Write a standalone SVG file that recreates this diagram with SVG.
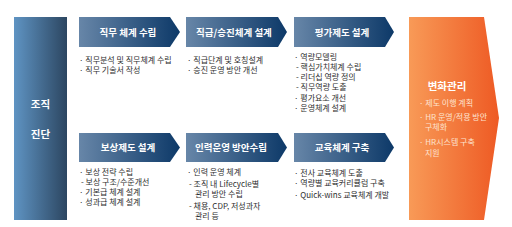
<svg xmlns="http://www.w3.org/2000/svg" width="512" height="227" viewBox="0 0 512 227">
<defs>
<linearGradient id="gBar" x1="0" y1="0" x2="1" y2="0">
<stop offset="0" stop-color="#5f94c3"/>
<stop offset="1" stop-color="#2c4661"/>
</linearGradient>
<linearGradient id="gArrow" x1="0" y1="0" x2="1" y2="0">
<stop offset="0" stop-color="#6786a8"/>
<stop offset="1" stop-color="#0d3968"/>
</linearGradient>
<linearGradient id="gOrange" x1="0" y1="0" x2="1" y2="0">
<stop offset="0" stop-color="#f89a57"/>
<stop offset="1" stop-color="#ee5a24"/>
</linearGradient>
<style>
text { font-family: "Noto Sans CJK KR", "Noto Sans", sans-serif; }
.head { fill: #ffffff; font-size: 9.5px; font-weight: bold; text-anchor: middle; }
.big { fill: #ffffff; font-size: 10.5px; font-weight: bold; text-anchor: middle; }
.item { fill: #2e2e2e; font-size: 8px; }
.oitem { fill: #fde3d0; font-size: 8px; }
</style>
</defs>
<g id="diag">
<rect x="14" y="17" width="53" height="203" fill="url(#gBar)"/>
<text class="big" x="40.5" y="108">조직</text>
<text class="big" x="40.5" y="138">진단</text>
</g>
<g id="job">
<polygon points="79,17 170,17 180,32 170,47 79,47" fill="url(#gArrow)"/>
<text class="head" x="128" y="35.5">직무 체계 수립</text>
<text class="item" x="79" y="63">· 직무분석 및 직무체계 수립</text>
<text class="item" x="79" y="73">· 직무 기술서 작성</text>
</g>
<g id="grade">
<polygon points="186,17 278,17 287,32 278,47 186,47" fill="url(#gArrow)"/>
<text class="head" x="234" y="35.5">직급/승진체계 설계</text>
<text class="item" x="187" y="63">· 직급단계 및 호칭설계</text>
<text class="item" x="187" y="73">· 승진 운영 방안 개선</text>
</g>
<g id="eval">
<polygon points="294,17 385,17 394,32 385,47 294,47" fill="url(#gArrow)"/>
<text class="head" x="342" y="35.5">평가제도 설계</text>
<text class="item" x="294" y="60">· 역량모델링</text>
<text class="item" x="296" y="70">- 핵심가치체계 수립</text>
<text class="item" x="296" y="80">- 리더십 역량 정의</text>
<text class="item" x="296" y="90">- 직무역량 도출</text>
<text class="item" x="294" y="101">· 평가요소 개선</text>
<text class="item" x="294" y="111">· 운영체계 설계</text>
</g>
<g id="comp">
<polygon points="79,133 170,133 180,147.5 170,162 79,162" fill="url(#gArrow)"/>
<text class="head" x="128" y="151">보상제도 설계</text>
<text class="item" x="79" y="175">· 보상 전략 수립</text>
<text class="item" x="81" y="185">- 보상 구조/수준개선</text>
<text class="item" x="79" y="195">· 기본급 체계 설계</text>
<text class="item" x="79" y="205">· 성과급 체계 설계</text>
</g>
<g id="staff">
<polygon points="186,133 278,133 287,147.5 278,162 186,162" fill="url(#gArrow)"/>
<text class="head" x="231" y="151">인력운영 방안수립</text>
<text class="item" x="187" y="175">· 인력 운영 체계</text>
<text class="item" x="189" y="186.5">- 조직 내 Lifecycle별</text>
<text class="item" x="195" y="196.5">관리 방안 수립</text>
<text class="item" x="189" y="209">- 채용, CDP, 저성과자</text>
<text class="item" x="195" y="219">관리 등</text>
</g>
<g id="edu">
<polygon points="294,133 385,133 394,147.5 385,162 294,162" fill="url(#gArrow)"/>
<text class="head" x="342" y="151">교육체계 구축</text>
<text class="item" x="294" y="175.5">· 전사 교육체계 도출</text>
<text class="item" x="294" y="186">· 역량별 교육커리큘럼 구축</text>
<text class="item" x="294" y="197.5">· Quick-wins 교육체계 개발</text>
</g>
<g id="change">
<polygon points="409,17 484,17 499,118 484,220 409,220" fill="url(#gOrange)"/>
<text class="big" x="447" y="90">변화관리</text>
<text class="oitem" x="419" y="106">· 제도 이행 계획</text>
<text class="oitem" x="419" y="119.5">· HR 운영/적용 방안</text>
<text class="oitem" x="425" y="130">구체화</text>
<text class="oitem" x="419" y="144.5">· HR시스템 구축</text>
<text class="oitem" x="425" y="155.5">지원</text>
</g>
<g id="connectors"></g>
</svg>
